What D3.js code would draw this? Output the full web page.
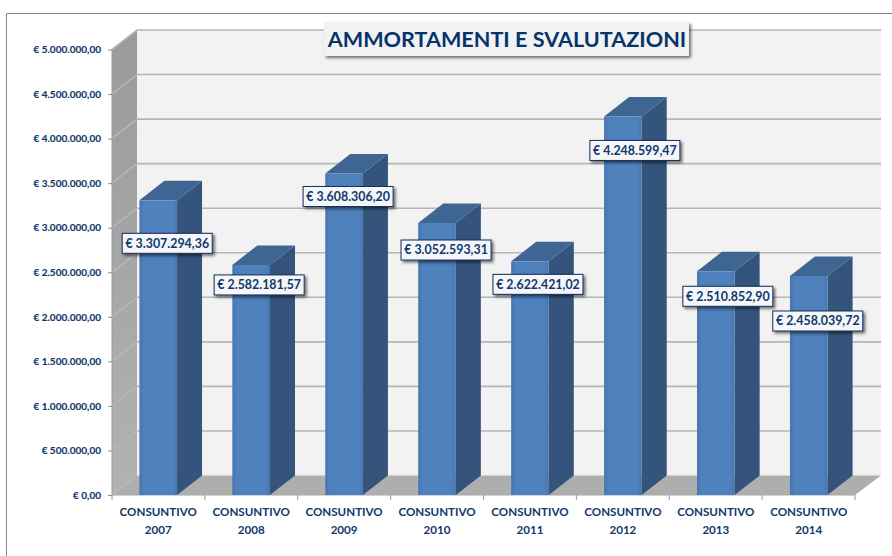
<!DOCTYPE html>
<html><head><meta charset="utf-8">
<script src="https://cdn.jsdelivr.net/npm/d3@7"></script>
<style>html,body{margin:0;padding:0;background:#fff}svg{display:block}text{font-family:Lato,"Open Sans",sans-serif;font-weight:700;fill:#10386b}</style>
</head><body>
<svg id="c" width="892" height="556"></svg>
<script>
const categories = ["2007","2008","2009","2010","2011","2012","2013","2014"];
const categoryPrefix = "CONSUNTIVO";
const values = [3307294.36,2582181.57,3608306.20,3052593.31,2622421.02,4248599.47,2510852.90,2458039.72];
const valueLabels = ["€ 3.307.294,36","€ 2.582.181,57","€ 3.608.306,20","€ 3.052.593,31","€ 2.622.421,02","€ 4.248.599,47","€ 2.510.852,90","€ 2.458.039,72"];
const yTicks = [0,500000,1000000,1500000,2000000,2500000,3000000,3500000,4000000,4500000,5000000];
const yTickLabels = ["€ 0,00","€ 500.000,00","€ 1.000.000,00","€ 1.500.000,00","€ 2.000.000,00","€ 2.500.000,00","€ 3.000.000,00","€ 3.500.000,00","€ 4.000.000,00","€ 4.500.000,00","€ 5.000.000,00"];
const title = "AMMORTAMENTI E SVALUTAZIONI";
// manual label placement: offset from bar centre / bar top, as in the original
const labelNudgeX = [9,8,4,9,8,12,12,9];
const labelNudgeY = [43,20,23,27,23,34,25,45];

const svg = d3.select("#c");
const defs = svg.append("defs");
const sh = defs.append("filter").attr("id","sh").attr("x","-10%").attr("y","-20%").attr("width","125%").attr("height","160%");
sh.append("feDropShadow").attr("dx",2).attr("dy",2).attr("stdDeviation",1.6).attr("flood-color","#000").attr("flood-opacity",.55);
const fg = defs.append("linearGradient").attr("id","fr");
[[0,"#4674ae"],[.12,"#4f81bd"],[.88,"#4f81bd"],[1,"#4877b0"]].forEach(s=>fg.append("stop").attr("offset",s[0]).attr("stop-color",s[1]));
const wg = defs.append("linearGradient").attr("id","wall").attr("x1",0).attr("x2",0).attr("y1",0).attr("y2",1);
[[0,"#9a9a9a"],[1,"#b2b2b2"]].forEach(s=>wg.append("stop").attr("offset",s[0]).attr("stop-color",s[1]));

const L=112,R=855,T=49.5,B=495,DX=25,DY=-19.5;
const x = d3.scaleBand().domain(categories).range([L,R]).paddingInner(.595).paddingOuter(.295);
const xt = d3.scaleBand().domain(categories).range([L,R]);
const y = d3.scaleLinear().domain([0,5000000]).range([B,T]);
const pts = a => a.map(p=>p.join(",")).join(" ");

// frame
svg.append("path").attr("d","M6.5,556V13.5H892").attr("fill","none").attr("stroke","#8a8a8a").attr("stroke-width",1);

// walls and floor
svg.append("polygon").attr("points",pts([[L+DX,T+DY],[R+DX+1,T+DY],[R+DX+1,B+DY],[L+DX,B+DY]])).attr("fill","#f2f2f2");
svg.append("polygon").attr("points",pts([[L,T],[L+DX,T+DY],[L+DX,B+DY],[L,B]])).attr("fill","url(#wall)");
svg.append("polygon").attr("points",pts([[L,B],[L+DX,B+DY],[R+DX+1,B+DY],[R,B]])).attr("fill","#aeaeae");

// gridlines
const grid = yTicks.filter(t=>t>0);
svg.append("g").selectAll("polyline").data(grid).join("polyline")
  .attr("points",d=>pts([[L,y(d)],[L+DX,y(d)+DY],[R+DX+1,y(d)+DY]]))
  .attr("fill","none").attr("stroke","#b6b6b6").attr("stroke-width",1.6);

// axes
const yAxis = d3.axisLeft(y).tickValues(yTicks).tickSize(4).tickFormat((d,i)=>yTickLabels[i]);
const gy = svg.append("g").attr("transform",`translate(${L},0)`).call(yAxis);
gy.select(".domain").attr("stroke","#9a9a9a").attr("d",`M0,${T}V${B}`);
gy.selectAll("line").attr("stroke","#8a8a8a");
gy.selectAll("text").attr("x",-11).style("font-size","10px").style("fill","#10386b").style("stroke","#10386b").style("stroke-width",".15px").attr("font-family",null);

const gx = svg.append("g").attr("transform",`translate(0,${B})`);
gx.append("line").attr("x1",L).attr("x2",R).attr("stroke","#a8a8a8");
gx.selectAll(".t").data(d3.range(categories.length+1)).join("line").attr("class","t")
  .attr("x1",i=>L+i*xt.step()).attr("x2",i=>L+i*xt.step()).attr("y2",5).attr("stroke","#9a9a9a");
const cat = gx.selectAll("text").data(categories).join("text").attr("text-anchor","middle")
  .style("font-size","11.6px");
cat.append("tspan").attr("x",d=>x(d)+x.bandwidth()/2).attr("y",21).text(categoryPrefix);
cat.append("tspan").attr("x",d=>x(d)+x.bandwidth()/2).attr("y",39).text(d=>d);

// bars
const bars = svg.append("g").selectAll("g").data(categories).join("g");
const bw = x.bandwidth();
bars.append("polygon").attr("points",(d,i)=>{const X=x(d)+bw,Y=y(values[i]);return pts([[X,Y],[X+DX,Y+DY],[X+DX,B+DY],[X,B]]);}).attr("fill","#34547c");
bars.append("polygon").attr("points",(d,i)=>{const X=x(d),Y=y(values[i]);return pts([[X,Y],[X+DX,Y+DY],[X+bw+DX,Y+DY],[X+bw,Y]]);}).attr("fill","#3f6592");
bars.append("rect").attr("x",d=>x(d)).attr("y",(d,i)=>y(values[i])).attr("width",bw).attr("height",(d,i)=>B-y(values[i])).attr("fill","url(#fr)");

// value labels
const lab = svg.append("g").selectAll("g").data(categories).join("g")
  .attr("transform",(d,i)=>`translate(${x(d)+bw/2+labelNudgeX[i]},${y(values[i])+labelNudgeY[i]})`);
lab.append("rect").attr("x",-45).attr("y",-10).attr("width",90).attr("height",20)
  .attr("fill","#f4f6f9").attr("stroke","#14305a").attr("stroke-width",1).attr("filter","url(#sh)");
lab.append("text").attr("text-anchor","middle").attr("dy","0.36em").style("font-size","12.4px").text((d,i)=>valueLabels[i]);

// title
const tg = svg.append("g");
tg.append("rect").attr("x",324).attr("y",22).attr("width",365).attr("height",34).attr("fill","#f2f2f2").attr("filter","url(#sh)");
tg.append("text").attr("x",507).attr("y",47).attr("text-anchor","middle").style("font-size","21.6px").style("fill","#06346a").text(title);
</script>
</body></html>
